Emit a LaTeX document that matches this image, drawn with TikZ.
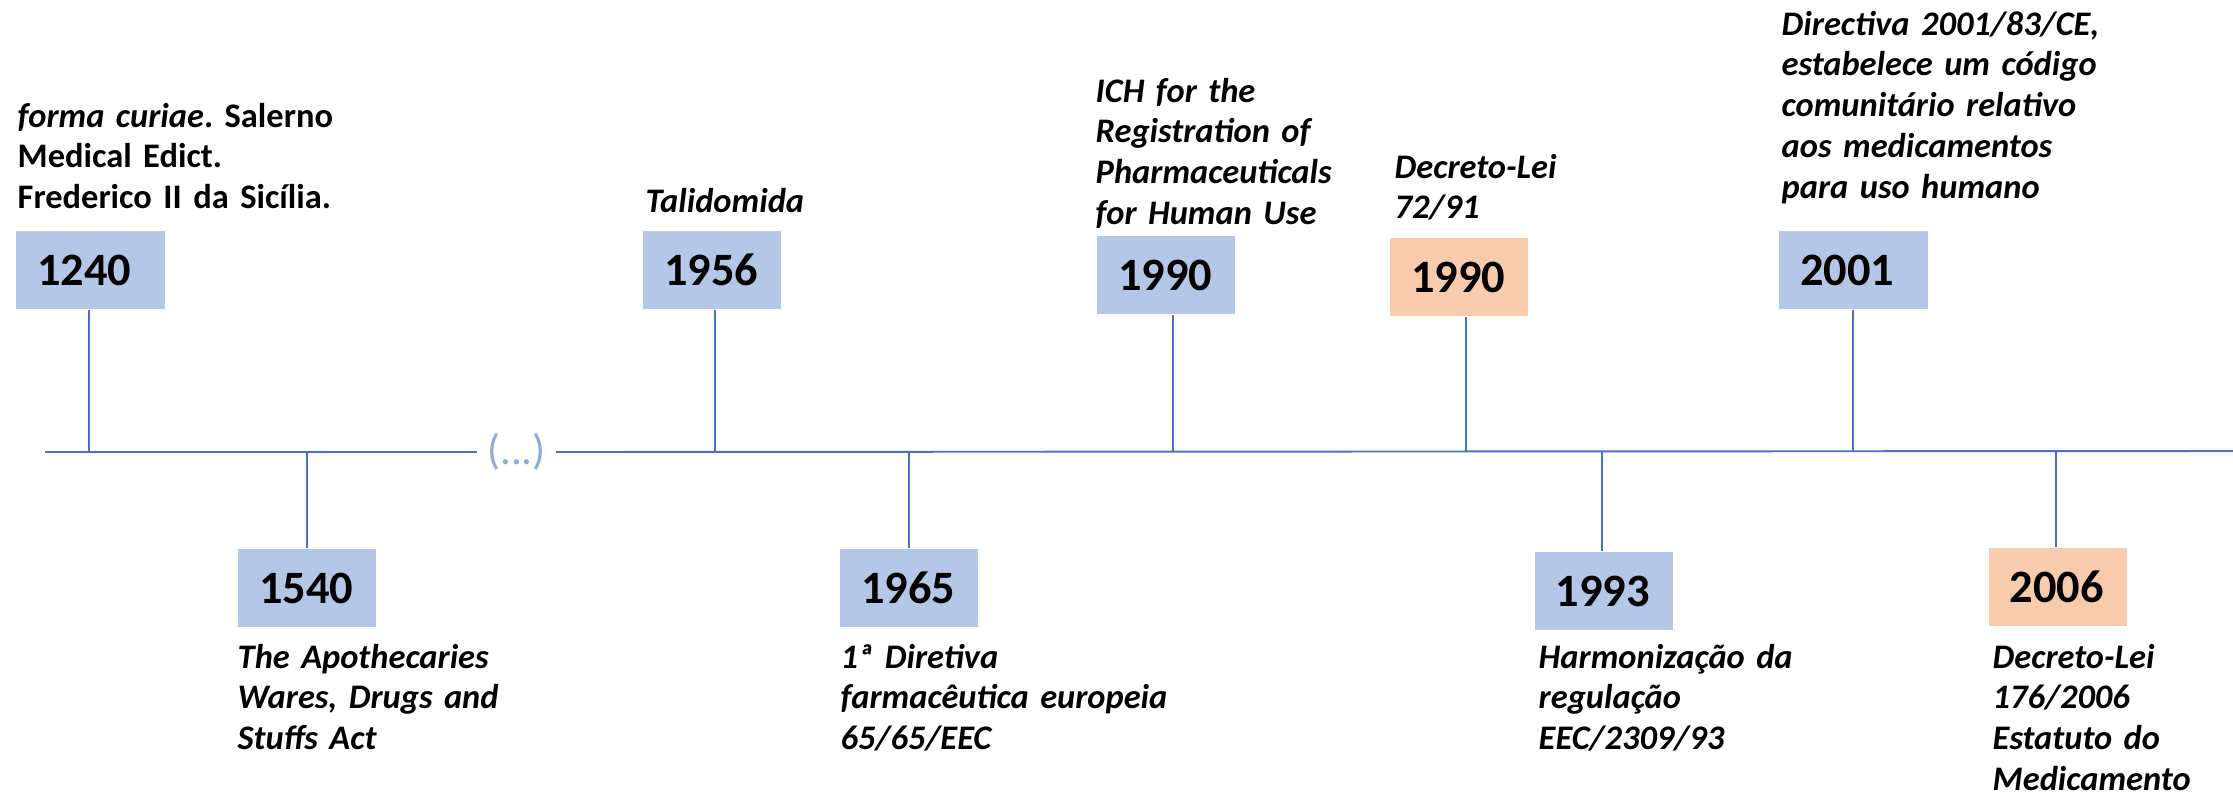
\documentclass[tikz,border=0pt]{standalone}
\usepackage{fontspec}
\setmainfont{Carlito}
\frenchspacing
\definecolor{boxblue}{HTML}{B4C7E7}
\definecolor{boxorange}{HTML}{F8CBAD}
\definecolor{lineblue}{HTML}{4472C4}
\definecolor{dotsblue}{HTML}{8FAADC}

\begin{document}
\begin{tikzpicture}[x=0.1mm, y=-0.1mm,
    year/.style={fill=boxblue, inner xsep=2.1mm, inner ysep=0pt, minimum height=7.8mm,
      text width=9.6mm, align=left, font=\fontsize{13.2pt}{15pt}\selectfont\bfseries},
    wide/.style={text width=10.7mm},
    dl/.style={fill=boxorange},
    note/.style={anchor=base west, inner sep=0pt, text width=40mm, align=left,
      font=\fontsize{9.8pt}{11.66pt}\selectfont\bfseries\itshape},
    noteup/.style={note, font=\fontsize{9.8pt}{11.66pt}\selectfont\bfseries},
    tl/.style={draw=lineblue, line width=0.55pt},
    stem/.style={draw=lineblue, line width=0.4pt}]
        \useasboundingbox (0,0) rectangle (2233,796);
        %
        % timeline
        \coordinate (tlstart) at (45,452);
        \coordinate (tlend) at (2233,451);
        \node [inner xsep=0.95mm, inner ysep=0pt, text=dotsblue,
               font=\fontsize{12.2pt}{14pt}\selectfont] (dots) at (516.5,452) {(...)};
        \path [tl] (tlstart) -- (dots.west);
        \path [tl] (dots.east) -- (tlend);
        %
        % points on the timeline
        \coordinate (t1240) at (89,452);
        \coordinate (t1540) at (307,452);
        \coordinate (t1956) at (715,452);
        \coordinate (t1965) at (909,452);
        \coordinate (t1990ich) at (1173,452);
        \coordinate (t1990dl) at (1466,452);
        \coordinate (t1993) at (1602,452);
        \coordinate (t2001) at (1853,452);
        \coordinate (t2006) at (2056,452);
        %
        % years
        \node [year, wide] (y1240) at (90.5,270) {1240};
        \node [year] (y1540) at (307,588) {1540};
        \node [year] (y1956) at (712,270) {1956};
        \node [year] (y1965) at (909,588) {1965};
        \node [year] (y1990ich) at (1166,275) {1990};
        \node [year, dl] (y1990dl) at (1459,277) {1990};
        \node [year] (y1993) at (1603.5,591) {1993};
        \node [year, wide] (y2001) at (1853.5,270) {2001};
        \node [year, dl] (y2006) at (2057.5,587) {2006};
        %
        \foreach \n in {1240,1956,1990ich,1990dl,2001}
            \path [stem] (t\n) -- (t\n |- y\n.south);
        \foreach \n in {1540,1965,1993,2006}
            \path [stem] (t\n) -- (t\n |- y\n.north);
        %
        % events
        \node [noteup] (l1240) at (17,127) {\textit{forma curiae}. Salerno\\Medical Edict.\\Frederico II da Sicília.};
        \node [note] (l1540) at (237,668) {The Apothecaries\\Wares, Drugs and\\Stuffs Act};
        \node [note] (l1956) at (645,212) {Talidomida};
        \node [note] (l1965) at (840,668) {1ª Diretiva\\farmacêutica europeia\\65/65/EEC};
        \node [note] (l1990ich) at (1095,102) {ICH for the\\Registration of\\Pharmaceuticals\\for Human Use};
        \node [note] (l1990dl) at (1394,178) {Decreto-Lei\\72/91};
        \node [note] (l1993) at (1538,668) {Harmonização da\\regulação\\EEC/2309/93};
        \node [note] (l2001) at (1781,35) {Directiva 2001/83/CE,\\estabelece um código\\comunitário relativo\\aos medicamentos\\para uso humano};
        \node [note] (l2006) at (1992,668) {Decreto-Lei\\176/2006\\Estatuto do\\Medicamento};
\end{tikzpicture}
\end{document}
